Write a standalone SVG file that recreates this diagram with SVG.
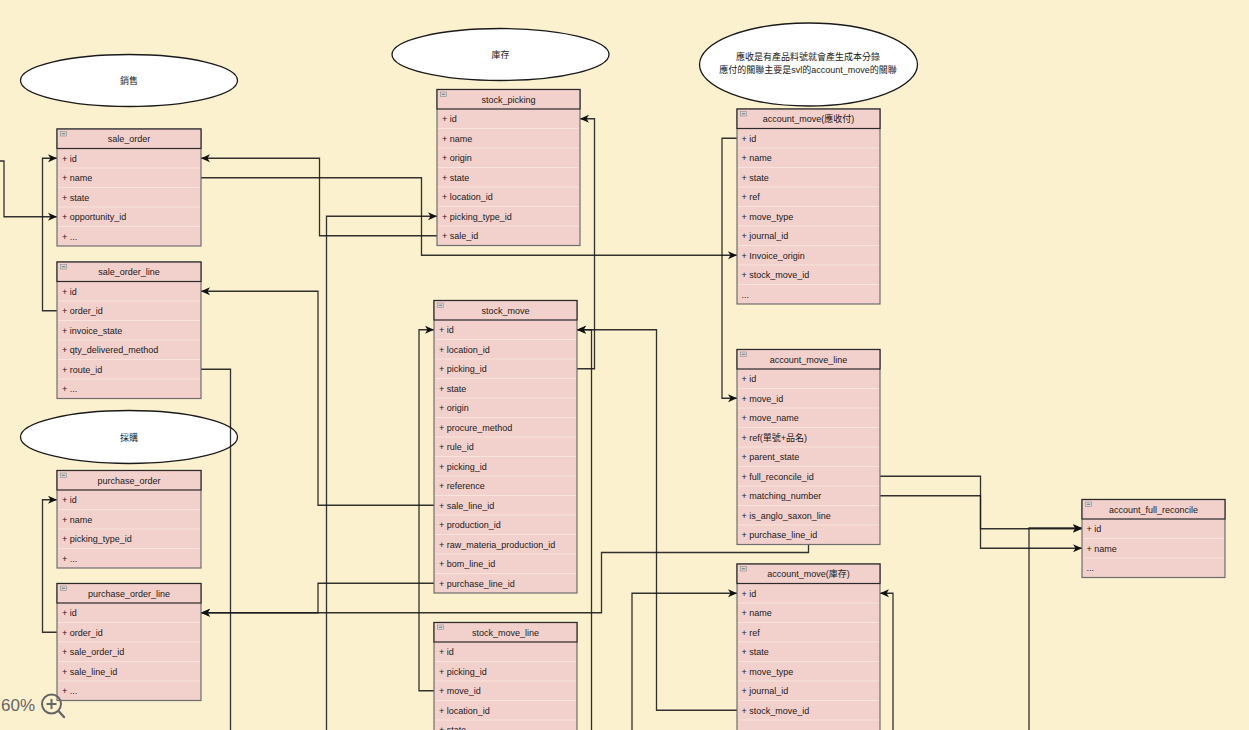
<svg xmlns="http://www.w3.org/2000/svg" width="1249" height="730" viewBox="0 0 1249 730">
<defs>
<style>
.bg{fill:#FCF1CF}
.box{fill:#F2D0CC;stroke:#6e6e6e;stroke-width:1.2}
.hdr{fill:#F2D0CC;stroke:#2a2a2a;stroke-width:1.2}
.sep{stroke:#F8E4DC;stroke-width:1}
.ico{fill:#d9d9d9;stroke:#8a8a8a;stroke-width:0.6}
.icl{stroke:#555;stroke-width:0.8}
.t{font-family:"Liberation Sans","Noto Sans CJK TC",sans-serif;font-size:9px;fill:#1a1a1a}
.ttl{text-anchor:middle}
.ell{fill:#ffffff;stroke:#1a1a1a;stroke-width:1.3}
.c{fill:none;stroke:#1c1c1c;stroke-width:1.3;stroke-opacity:0.9}
.a{marker-end:url(#arr)}
.zoom{font-family:"Liberation Sans",sans-serif;font-size:17px;fill:#666}
</style>
<marker id="arr" markerUnits="userSpaceOnUse" markerWidth="10" markerHeight="9" refX="9" refY="4.5" orient="auto">
<path d="M0,0.5 L9,4.5 L0,8.5 L2.5,4.5 Z" fill="#111"/>
</marker>
</defs>
<rect class="bg" x="0" y="0" width="1249" height="730"/>

<g id="ellipses">
<g id="note-sales"><ellipse class="ell" cx="129" cy="80.5" rx="108.5" ry="26"/><text class="t ttl" x="129" y="84">銷售</text></g>
<g id="note-stock"><ellipse class="ell" cx="500.5" cy="54.5" rx="108.5" ry="26"/><text class="t ttl" x="500.5" y="58">庫存</text></g>
<g id="note-purchase"><ellipse class="ell" cx="129" cy="437" rx="108.5" ry="26.5"/><text class="t ttl" x="129" y="440.5">採購</text></g>
<g id="note-account"><ellipse class="ell" cx="808.5" cy="64.5" rx="109" ry="41.5"/><text class="t ttl" x="808" y="60">應收是有產品料號就會產生成本分錄</text><text class="t ttl" x="808" y="72.5">應付的關聯主要是svl的account_move的關聯</text></g>
</g>

<g id="connectors">
<polyline class="c a" points="0,161 4,161 4,216.75 57,216.75"/>
<polyline class="c a" points="57,310.75 42.5,310.75 42.5,158.25 57,158.25"/>
<polyline class="c a" points="437,235.75 319.5,235.75 319.5,158.25 201,158.25"/>
<polyline class="c a" points="201,177.75 421.5,177.75 421.5,255.25 737,255.25"/>
<polyline class="c a" points="326.5,730 326.5,216.25 437,216.25"/>
<polyline class="c" points="201,369.25 230.5,369.25 230.5,730"/>
<polyline class="c a" points="434,505.25 318,505.25 318,291.25 201,291.25"/>
<polyline class="c a" points="57,632.25 42.5,632.25 42.5,499.75 57,499.75"/>
<polyline class="c a" points="434,583.25 318,583.25 318,612.75 201,612.75"/>
<polyline class="c a" points="808.5,544.5 808.5,552.5 601.5,552.5 601.5,612.75 201,612.75"/>
<polyline class="c a" points="577,368.75 594.5,368.75 594.5,118.75 580,118.75"/>
<polyline class="c a" points="591.5,730 591.5,329.75 577,329.75"/>
<polyline class="c a" points="737,710.25 656.5,710.25 656.5,329.75 577,329.75"/>
<polyline class="c a" points="434,690.75 419,690.75 419,329.75 434,329.75"/>
<polyline class="c a" points="737,138.25 722,138.25 722,398.25 737,398.25"/>
<polyline class="c a" points="880,476.25 980.5,476.25 980.5,528.75 1082,528.75"/>
<polyline class="c a" points="880,495.75 980.5,495.75 980.5,548.25 1082,548.25"/>
<polyline class="c a" points="1029,730 1029,528 1082,528"/>
<polyline class="c a" points="632,730 632,593.25 737,593.25"/>
<polyline class="c a" points="893,730 893,593.25 880,593.25"/>
</g>

<g id="sale_order">
<rect class="box" x="57" y="129" width="144" height="117"/>
<rect class="hdr" x="57" y="129" width="144" height="19.5"/>
<rect class="ico" x="60.5" y="131.5" width="6" height="4.5"/><line class="icl" x1="61.8" y1="133.75" x2="65.2" y2="133.75"/>
<text class="t ttl" x="129" y="142">sale_order</text>
<g class="sep"><line x1="58" y1="168" x2="200" y2="168"/><line x1="58" y1="187.5" x2="200" y2="187.5"/><line x1="58" y1="207" x2="200" y2="207"/><line x1="58" y1="226.5" x2="200" y2="226.5"/></g>
<text class="t" x="62" y="161.5">+ id</text><text class="t" x="62" y="181">+ name</text><text class="t" x="62" y="200.5">+ state</text><text class="t" x="62" y="220">+ opportunity_id</text><text class="t" x="62" y="239.5">+ ...</text>
</g>

<g id="sale_order_line">
<rect class="box" x="57" y="262" width="144" height="136.5"/>
<rect class="hdr" x="57" y="262" width="144" height="19.5"/>
<rect class="ico" x="60.5" y="264.5" width="6" height="4.5"/><line class="icl" x1="61.8" y1="266.75" x2="65.2" y2="266.75"/>
<text class="t ttl" x="129" y="275">sale_order_line</text>
<g class="sep"><line x1="58" y1="301" x2="200" y2="301"/><line x1="58" y1="320.5" x2="200" y2="320.5"/><line x1="58" y1="340" x2="200" y2="340"/><line x1="58" y1="359.5" x2="200" y2="359.5"/><line x1="58" y1="379" x2="200" y2="379"/></g>
<text class="t" x="62" y="294.5">+ id</text><text class="t" x="62" y="314">+ order_id</text><text class="t" x="62" y="333.5">+ invoice_state</text><text class="t" x="62" y="353">+ qty_delivered_method</text><text class="t" x="62" y="372.5">+ route_id</text><text class="t" x="62" y="392">+ ...</text>
</g>

<g id="purchase_order">
<rect class="box" x="57" y="470.5" width="144" height="97.5"/>
<rect class="hdr" x="57" y="470.5" width="144" height="19.5"/>
<rect class="ico" x="60.5" y="473" width="6" height="4.5"/><line class="icl" x1="61.8" y1="475.25" x2="65.2" y2="475.25"/>
<text class="t ttl" x="129" y="483.5">purchase_order</text>
<g class="sep"><line x1="58" y1="509.5" x2="200" y2="509.5"/><line x1="58" y1="529" x2="200" y2="529"/><line x1="58" y1="548.5" x2="200" y2="548.5"/></g>
<text class="t" x="62" y="503">+ id</text><text class="t" x="62" y="522.5">+ name</text><text class="t" x="62" y="542">+ picking_type_id</text><text class="t" x="62" y="561.5">+ ...</text>
</g>

<g id="purchase_order_line">
<rect class="box" x="57" y="583.5" width="144" height="117"/>
<rect class="hdr" x="57" y="583.5" width="144" height="19.5"/>
<rect class="ico" x="60.5" y="586" width="6" height="4.5"/><line class="icl" x1="61.8" y1="588.25" x2="65.2" y2="588.25"/>
<text class="t ttl" x="129" y="596.5">purchase_order_line</text>
<g class="sep"><line x1="58" y1="622.5" x2="200" y2="622.5"/><line x1="58" y1="642" x2="200" y2="642"/><line x1="58" y1="661.5" x2="200" y2="661.5"/><line x1="58" y1="681" x2="200" y2="681"/></g>
<text class="t" x="62" y="616">+ id</text><text class="t" x="62" y="635.5">+ order_id</text><text class="t" x="62" y="655">+ sale_order_id</text><text class="t" x="62" y="674.5">+ sale_line_id</text><text class="t" x="62" y="694">+ ...</text>
</g>

<g id="stock_picking">
<rect class="box" x="437" y="89.5" width="143" height="156"/>
<rect class="hdr" x="437" y="89.5" width="143" height="19.5"/>
<rect class="ico" x="440.5" y="92" width="6" height="4.5"/><line class="icl" x1="441.8" y1="94.25" x2="445.2" y2="94.25"/>
<text class="t ttl" x="508.5" y="102.5">stock_picking</text>
<g class="sep"><line x1="438" y1="128.5" x2="579" y2="128.5"/><line x1="438" y1="148" x2="579" y2="148"/><line x1="438" y1="167.5" x2="579" y2="167.5"/><line x1="438" y1="187" x2="579" y2="187"/><line x1="438" y1="206.5" x2="579" y2="206.5"/><line x1="438" y1="226" x2="579" y2="226"/></g>
<text class="t" x="442" y="122">+ id</text><text class="t" x="442" y="141.5">+ name</text><text class="t" x="442" y="161">+ origin</text><text class="t" x="442" y="180.5">+ state</text><text class="t" x="442" y="200">+ location_id</text><text class="t" x="442" y="219.5">+ picking_type_id</text><text class="t" x="442" y="239">+ sale_id</text>
</g>

<g id="stock_move">
<rect class="box" x="434" y="300.5" width="143" height="292.5"/>
<rect class="hdr" x="434" y="300.5" width="143" height="19.5"/>
<rect class="ico" x="437.5" y="303" width="6" height="4.5"/><line class="icl" x1="438.8" y1="305.25" x2="442.2" y2="305.25"/>
<text class="t ttl" x="505.5" y="313.5">stock_move</text>
<g class="sep"><line x1="435" y1="339.5" x2="576" y2="339.5"/><line x1="435" y1="359" x2="576" y2="359"/><line x1="435" y1="378.5" x2="576" y2="378.5"/><line x1="435" y1="398" x2="576" y2="398"/><line x1="435" y1="417.5" x2="576" y2="417.5"/><line x1="435" y1="437" x2="576" y2="437"/><line x1="435" y1="456.5" x2="576" y2="456.5"/><line x1="435" y1="476" x2="576" y2="476"/><line x1="435" y1="495.5" x2="576" y2="495.5"/><line x1="435" y1="515" x2="576" y2="515"/><line x1="435" y1="534.5" x2="576" y2="534.5"/><line x1="435" y1="554" x2="576" y2="554"/><line x1="435" y1="573.5" x2="576" y2="573.5"/></g>
<text class="t" x="439" y="333">+ id</text><text class="t" x="439" y="352.5">+ location_id</text><text class="t" x="439" y="372">+ picking_id</text><text class="t" x="439" y="391.5">+ state</text><text class="t" x="439" y="411">+ origin</text><text class="t" x="439" y="430.5">+ procure_method</text><text class="t" x="439" y="450">+ rule_id</text><text class="t" x="439" y="469.5">+ picking_id</text><text class="t" x="439" y="489">+ reference</text><text class="t" x="439" y="508.5">+ sale_line_id</text><text class="t" x="439" y="528">+ production_id</text><text class="t" x="439" y="547.5">+ raw_materia_production_id</text><text class="t" x="439" y="567">+ bom_line_id</text><text class="t" x="439" y="586.5">+ purchase_line_id</text>
</g>

<g id="stock_move_line">
<rect class="box" x="434" y="622.5" width="143" height="140"/>
<rect class="hdr" x="434" y="622.5" width="143" height="19.5"/>
<rect class="ico" x="437.5" y="625" width="6" height="4.5"/><line class="icl" x1="438.8" y1="627.25" x2="442.2" y2="627.25"/>
<text class="t ttl" x="505.5" y="635.5">stock_move_line</text>
<g class="sep"><line x1="435" y1="661.5" x2="576" y2="661.5"/><line x1="435" y1="681" x2="576" y2="681"/><line x1="435" y1="700.5" x2="576" y2="700.5"/><line x1="435" y1="720" x2="576" y2="720"/></g>
<text class="t" x="439" y="655">+ id</text><text class="t" x="439" y="674.5">+ picking_id</text><text class="t" x="439" y="694">+ move_id</text><text class="t" x="439" y="713.5">+ location_id</text><text class="t" x="439" y="733">+ state</text>
</g>

<g id="account_move_ar_ap">
<rect class="box" x="737" y="109" width="143" height="195"/>
<rect class="hdr" x="737" y="109" width="143" height="19.5"/>
<rect class="ico" x="740.5" y="111.5" width="6" height="4.5"/><line class="icl" x1="741.8" y1="113.75" x2="745.2" y2="113.75"/>
<text class="t ttl" x="808.5" y="122">account_move(應收付)</text>
<g class="sep"><line x1="738" y1="148" x2="879" y2="148"/><line x1="738" y1="167.5" x2="879" y2="167.5"/><line x1="738" y1="187" x2="879" y2="187"/><line x1="738" y1="206.5" x2="879" y2="206.5"/><line x1="738" y1="226" x2="879" y2="226"/><line x1="738" y1="245.5" x2="879" y2="245.5"/><line x1="738" y1="265" x2="879" y2="265"/><line x1="738" y1="284.5" x2="879" y2="284.5"/></g>
<text class="t" x="741.5" y="141.5">+ id</text><text class="t" x="741.5" y="161">+ name</text><text class="t" x="741.5" y="180.5">+ state</text><text class="t" x="741.5" y="200">+ ref</text><text class="t" x="741.5" y="219.5">+ move_type</text><text class="t" x="741.5" y="239">+ journal_id</text><text class="t" x="741.5" y="258.5">+ Invoice_origin</text><text class="t" x="741.5" y="278">+ stock_move_id</text><text class="t" x="741.5" y="297.5">...</text>
</g>

<g id="account_move_line">
<rect class="box" x="737" y="349.5" width="143" height="195"/>
<rect class="hdr" x="737" y="349.5" width="143" height="19.5"/>
<rect class="ico" x="740.5" y="352" width="6" height="4.5"/><line class="icl" x1="741.8" y1="354.25" x2="745.2" y2="354.25"/>
<text class="t ttl" x="808.5" y="362.5">account_move_line</text>
<g class="sep"><line x1="738" y1="388.5" x2="879" y2="388.5"/><line x1="738" y1="408" x2="879" y2="408"/><line x1="738" y1="427.5" x2="879" y2="427.5"/><line x1="738" y1="447" x2="879" y2="447"/><line x1="738" y1="466.5" x2="879" y2="466.5"/><line x1="738" y1="486" x2="879" y2="486"/><line x1="738" y1="505.5" x2="879" y2="505.5"/><line x1="738" y1="525" x2="879" y2="525"/></g>
<text class="t" x="741.5" y="382">+ id</text><text class="t" x="741.5" y="401.5">+ move_id</text><text class="t" x="741.5" y="421">+ move_name</text><text class="t" x="741.5" y="440.5">+ ref(單號+品名)</text><text class="t" x="741.5" y="460">+ parent_state</text><text class="t" x="741.5" y="479.5">+ full_reconcile_id</text><text class="t" x="741.5" y="499">+ matching_number</text><text class="t" x="741.5" y="518.5">+ is_anglo_saxon_line</text><text class="t" x="741.5" y="538">+ purchase_line_id</text>
</g>

<g id="account_move_stock">
<rect class="box" x="737" y="564" width="143" height="200"/>
<rect class="hdr" x="737" y="564" width="143" height="19.5"/>
<rect class="ico" x="740.5" y="566.5" width="6" height="4.5"/><line class="icl" x1="741.8" y1="568.75" x2="745.2" y2="568.75"/>
<text class="t ttl" x="808.5" y="577">account_move(庫存)</text>
<g class="sep"><line x1="738" y1="603" x2="879" y2="603"/><line x1="738" y1="622.5" x2="879" y2="622.5"/><line x1="738" y1="642" x2="879" y2="642"/><line x1="738" y1="661.5" x2="879" y2="661.5"/><line x1="738" y1="681" x2="879" y2="681"/><line x1="738" y1="700.5" x2="879" y2="700.5"/><line x1="738" y1="720" x2="879" y2="720"/></g>
<text class="t" x="741.5" y="596.5">+ id</text><text class="t" x="741.5" y="616">+ name</text><text class="t" x="741.5" y="635.5">+ ref</text><text class="t" x="741.5" y="655">+ state</text><text class="t" x="741.5" y="674.5">+ move_type</text><text class="t" x="741.5" y="694">+ journal_id</text><text class="t" x="741.5" y="713.5">+ stock_move_id</text>
</g>

<g id="account_full_reconcile">
<rect class="box" x="1082" y="499.5" width="143" height="78"/>
<rect class="hdr" x="1082" y="499.5" width="143" height="19.5"/>
<rect class="ico" x="1085.5" y="502" width="6" height="4.5"/><line class="icl" x1="1086.8" y1="504.25" x2="1090.2" y2="504.25"/>
<text class="t ttl" x="1153.5" y="512.5">account_full_reconcile</text>
<g class="sep"><line x1="1083" y1="538.5" x2="1224" y2="538.5"/><line x1="1083" y1="558" x2="1224" y2="558"/></g>
<text class="t" x="1086.5" y="532">+ id</text><text class="t" x="1086.5" y="551.5">+ name</text><text class="t" x="1086.5" y="571">...</text>
</g>

<g id="zoom-indicator">
<text class="zoom" x="1" y="711">60%</text>
<circle cx="51.5" cy="704" r="9.5" fill="none" stroke="#666" stroke-width="2"/>
<line x1="46.5" y1="704" x2="56.5" y2="704" stroke="#666" stroke-width="2"/>
<line x1="51.5" y1="699" x2="51.5" y2="709" stroke="#666" stroke-width="2"/>
<line x1="58.5" y1="711" x2="64" y2="717" stroke="#666" stroke-width="2.4" stroke-linecap="round"/>
</g>
</svg>
